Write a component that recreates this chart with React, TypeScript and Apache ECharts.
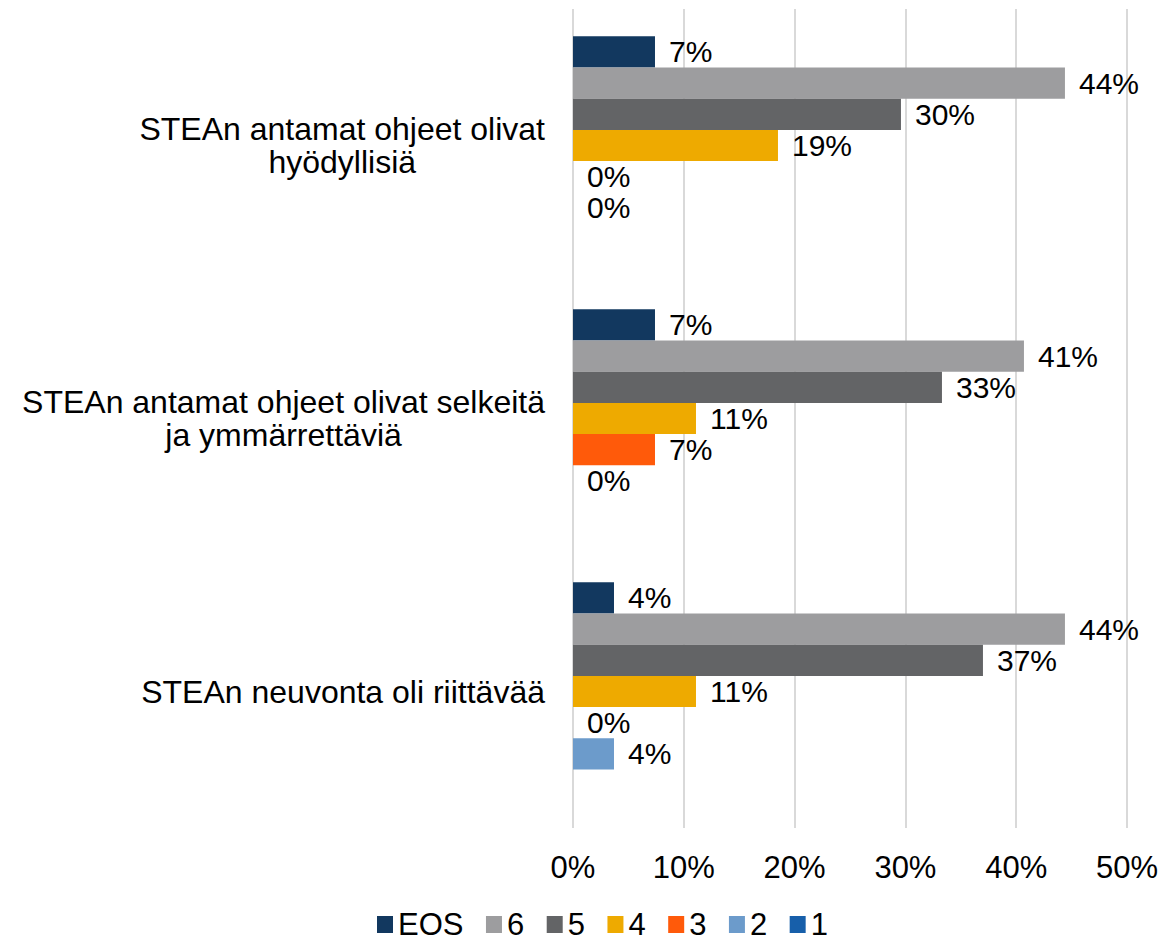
import React, { useEffect, useRef } from "react";
import * as echarts from "echarts";

const categories = [
  "STEAn antamat ohjeet olivat\nhyödyllisiä",
  "STEAn antamat ohjeet olivat selkeitä\nja ymmärrettäviä",
  "STEAn neuvonta oli riittävää",
];
const seriesNames = ["EOS", "6", "5", "4", "3", "2", "1"];
const colors = ["#12385F", "#9D9D9F", "#636466", "#EEAA00", "#FF5A0A", "#6C9BCB", "#175FAA"];
const valEOS = [7.4, 7.4, 3.7];
const val6 = [44.4, 40.7, 44.4];
const val5 = [29.6, 33.3, 37.0];
const val4 = [18.5, 11.1, 11.1];
const val3 = [0, 7.4, 0];
const val2 = [0, 0, 3.7];
const val1: (number | null)[] = [null, null, null];
const xTicks = [0, 10, 20, 30, 40, 50];

const FONT = "'Liberation Sans', Arial, sans-serif";

export default function App() {
  const ref = useRef<HTMLDivElement>(null);
  useEffect(() => {
    if (!ref.current) return;
    const chart = echarts.init(ref.current, undefined, { renderer: "svg" });
    const allVals = [valEOS, val6, val5, val4, val3, val2, val1];
    chart.setOption({
      animation: false,
      textStyle: { fontFamily: FONT },
      grid: { left: 573, right: 49, top: 9, bottom: 110, containLabel: false },
      legend: {
        data: seriesNames,
        left: 377,
        top: 909,
        padding: 0,
        icon: "rect",
        itemWidth: 16,
        itemHeight: 17,
        itemGap: 22.5,
        textStyle: { fontSize: 31, lineHeight: 28, color: "#000", fontFamily: FONT },
      },
      xAxis: {
        type: "value",
        min: xTicks[0],
        max: xTicks[xTicks.length - 1],
        interval: 10,
        axisLine: { show: false },
        axisTick: { show: false },
        splitLine: { show: true, lineStyle: { color: "#D9D9D9", width: 2 } },
        axisLabel: {
          fontSize: 31,
          color: "#000",
          margin: 24,
          fontFamily: FONT,
          formatter: (v: number) => `${v}%`,
        },
      },
      yAxis: {
        type: "category",
        inverse: true,
        data: categories,
        axisLine: { show: false },
        axisTick: { show: false },
        axisLabel: {
          margin: 28,
          color: "#000",
          formatter: (v: string) =>
            v
              .split("\n")
              .map((l) => `{c|${l}}`)
              .join("\n"),
          rich: {
            c: { fontSize: 32, lineHeight: 33, align: "center", color: "#000", fontFamily: FONT },
          },
        },
      },
      series: seriesNames.map((name, i) => ({
        name,
        type: "bar",
        data: allVals[i],
        barGap: "0%",
        barCategoryGap: "20%",
        itemStyle: { color: colors[i] },
        label: {
          show: true,
          position: "right",
          distance: 14,
          fontSize: 30,
          color: "#000",
          fontFamily: FONT,
          formatter: (p: any) => (p.value == null ? "" : `${Math.round(p.value)}%`),
        },
      })),
    });
    return () => chart.dispose();
  }, []);
  return (
    <div
      ref={ref}
      style={{ position: "fixed", left: 0, top: 0, width: 1176, height: 938, background: "#fff" }}
    />
  );
}
